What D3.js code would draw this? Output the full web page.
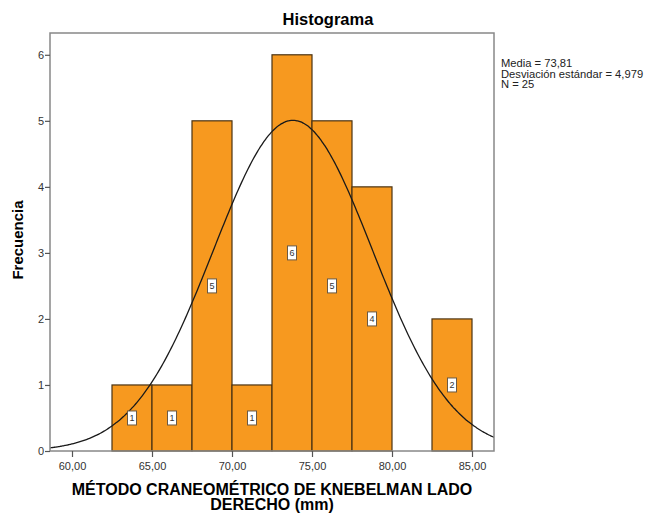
<!DOCTYPE html>
<html>
<head>
<meta charset="utf-8">
<script src="https://cdn.jsdelivr.net/npm/d3@7"></script>
<style>
  body { margin: 0; background: #fff; }
  text { font-family: "Liberation Sans", Arial, sans-serif; }
</style>
</head>
<body>
<div id="chart"></div>
<script>
// histogram data
const binStarts = [62.5, 65, 67.5, 70, 72.5, 75, 77.5, 80, 82.5];
const binWidth = 2.5;
const counts = [1, 1, 5, 1, 6, 5, 4, 0, 2];
const xTicks = [60, 65, 70, 75, 80, 85];
const yTicks = [0, 1, 2, 3, 4, 5, 6];
const stats = ["Media = 73,81", "Desviación estándar = 4,979", "N = 25"];
const mean = 73.81, sd = 4.979, n = 25;

const width = 650, height = 513;
const margin = { top: 33, right: 156, bottom: 62, left: 50 };
const innerW = width - margin.left - margin.right;
const innerH = height - margin.top - margin.bottom;

const svg = d3.select("#chart").append("svg")
  .attr("width", width).attr("height", height);

const x = d3.scaleLinear().domain([58.625, 86.375]).range([0, innerW]);
const y = d3.scaleLinear().domain([0, 6.33]).range([innerH, 0]);

const fmt = d => d.toFixed(2).replace(".", ",");

svg.append("text")
  .attr("x", 328).attr("y", 25)
  .attr("text-anchor", "middle")
  .style("font-size", "16.5px").style("font-weight", "bold")
  .text("Histograma");

const g = svg.append("g").attr("transform", `translate(${margin.left},${margin.top})`);

g.append("clipPath").attr("id", "clip")
  .append("rect").attr("width", innerW).attr("height", innerH);

const bins = binStarts.map((s, i) => ({ x0: s, x1: s + binWidth, n: counts[i] }));

g.selectAll("rect.bar").data(bins.filter(d => d.n > 0)).enter().append("rect")
  .attr("class", "bar")
  .attr("x", d => x(d.x0))
  .attr("y", d => y(d.n))
  .attr("width", d => x(d.x1) - x(d.x0))
  .attr("height", d => y(0) - y(d.n))
  .attr("fill", "#f7991f")
  .attr("stroke", "#4a3313")
  .attr("stroke-width", 1.2);

// normal curve scaled to counts
const curve = d3.range(58, 87.01, 0.1).map(v => [v,
  n * binWidth / (sd * Math.sqrt(2 * Math.PI)) * Math.exp(-0.5 * ((v - mean) / sd) ** 2)]);

g.append("path")
  .datum(curve)
  .attr("clip-path", "url(#clip)")
  .attr("fill", "none")
  .attr("stroke", "#1a1a1a")
  .attr("stroke-width", 1.3)
  .attr("d", d3.line().x(d => x(d[0])).y(d => y(d[1])).curve(d3.curveBasis));

// count labels
const lab = g.selectAll("g.lab").data(bins.filter(d => d.n > 0)).enter().append("g")
  .attr("class", "lab")
  .attr("transform", d => `translate(${x(d.x0 + binWidth / 2)},${y(d.n / 2)})`);
lab.append("rect")
  .attr("x", -4.5).attr("y", -7).attr("width", 9).attr("height", 14)
  .attr("fill", "#fff").attr("stroke", "#6b5a44").attr("stroke-width", 1);
lab.append("text")
  .attr("text-anchor", "middle").attr("dy", "0.35em")
  .style("font-size", "9px").attr("fill", "#333")
  .text(d => d.n);

// frame
g.append("rect")
  .attr("width", innerW).attr("height", innerH)
  .attr("fill", "none").attr("stroke", "#888").attr("stroke-width", 1.5);

const xAxis = g.append("g").attr("transform", `translate(0,${innerH})`)
  .call(d3.axisBottom(x).tickValues(xTicks).tickFormat(fmt).tickSize(6).tickSizeOuter(0));
const yAxis = g.append("g")
  .call(d3.axisLeft(y).tickValues(yTicks).tickFormat(d3.format("d")).tickSize(5).tickSizeOuter(0));
[xAxis, yAxis].forEach(a => {
  a.select(".domain").remove();
  a.selectAll(".tick line").attr("stroke", "#555").attr("stroke-width", 1.2);
  a.selectAll(".tick text").attr("fill", "#333").style("font-size", "11px")
    .style("font-family", "'Liberation Sans', Arial, sans-serif");
});
xAxis.selectAll(".tick text").attr("dy", "0.9em");
yAxis.selectAll(".tick text").attr("x", -6);

svg.append("text")
  .attr("text-anchor", "middle")
  .style("font-size", "16px").style("font-weight", "bold")
  .selectAll("tspan").data(["MÉTODO CRANEOMÉTRICO DE KNEBELMAN LADO", "DERECHO (mm)"])
  .enter().append("tspan")
  .attr("x", margin.left + innerW / 2)
  .attr("y", (d, i) => 495 + i * 15)
  .text(d => d);

svg.append("text")
  .attr("transform", `translate(23,240) rotate(-90)`)
  .attr("text-anchor", "middle")
  .style("font-size", "15px").style("font-weight", "bold")
  .text("Frecuencia");

svg.append("g").selectAll("text").data(stats).enter().append("text")
  .attr("x", 501).attr("y", (d, i) => 67 + i * 10.5)
  .style("font-size", "11.2px").attr("fill", "#222")
  .text(d => d);
</script>
</body>
</html>
